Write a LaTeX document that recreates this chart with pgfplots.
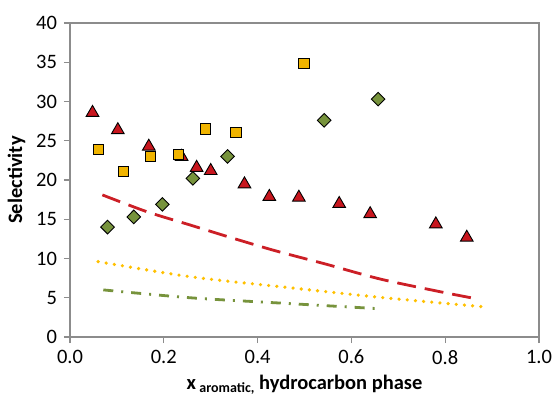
\documentclass[border=0pt]{standalone}
\usepackage{pgfplots}
\pgfplotsset{compat=1.18}
\usepackage{fontspec}
\setmainfont{Carlito}
\definecolor{tri}{HTML}{C8161E}
\definecolor{sq}{HTML}{F0B400}
\definecolor{dia}{HTML}{77933C}
\definecolor{redline}{HTML}{CC1F26}
\definecolor{goldline}{HTML}{FFC000}
\definecolor{axgray}{HTML}{8C8C8C}
\begin{document}
\fontsize{20.5bp}{23bp}\selectfont
\begin{tikzpicture}
\begin{axis}[
    scale only axis,
    width=469bp, height=314bp,
    xmin=0, xmax=1, ymin=0, ymax=40,
    xtick={0,0.2,0.4,0.6,0.8,1},
    ytick={0,5,10,15,20,25,30,35,40},
    xticklabel style={/pgf/number format/.cd, fixed, fixed zerofill, precision=1},
    /pgf/number format/assume math mode=true,
    tick align=outside,
    tick pos=left,
    major tick length=6bp,
    axis line style={axgray, line width=1.3bp},
    every tick/.style={axgray, line width=1.3bp},
    ylabel={\bfseries Selectivity},
    xlabel={\bfseries x\,\raisebox{-3bp}{\fontsize{14bp}{15bp}\selectfont aromatic,} hydrocarbon phase},
    ylabel style={yshift=-3bp},
    xlabel style={yshift=3bp},
]
% correlation lines
\addplot[redline, line width=2.8bp, dash pattern=on 19bp off 9bp, smooth] coordinates {
    (0.069,18.1) (0.164,15.96) (0.256,14.27) (0.341,12.7) (0.437,11.0)
    (0.547,9.26) (0.661,7.39) (0.789,5.77) (0.855,5.0)};
\addplot[goldline, line width=3.6bp, line cap=round, dash pattern=on 0bp off 8.2bp, smooth] coordinates {
    (0.06,9.6) (0.256,7.68) (0.45,6.4) (0.661,5.05) (0.88,3.86)};
\addplot[dia, line width=2.8bp, dash pattern=on 10bp off 8bp on 2bp off 8bp, smooth] coordinates {
    (0.071,6.0) (0.256,5.0) (0.455,4.3) (0.66,3.6)};
% experimental points
\addplot[only marks, mark=triangle*, mark size=7.3bp,
    mark options={fill=tri, draw=black, line width=0.9bp, yshift=-1.8bp}] coordinates {
    (0.048,28.8) (0.102,26.6) (0.168,24.5) (0.238,23.2) (0.270,21.8)
    (0.300,21.4) (0.372,19.7) (0.425,18.1) (0.488,18.0) (0.574,17.2)
    (0.640,15.9) (0.780,14.6) (0.846,12.9)};
\addplot[only marks, mark=square*, mark size=5.1bp,
    mark options={fill=sq, draw=black, line width=0.9bp}] coordinates {
    (0.061,23.9) (0.114,21.1) (0.171,23.0) (0.232,23.3) (0.289,26.5)
    (0.354,26.1) (0.499,34.8)};
\addplot[only marks, mark=diamond*, mark size=6.8bp,
    mark options={fill=dia, draw=black, line width=0.9bp, xscale=1.33}] coordinates {
    (0.080,14.0) (0.136,15.3) (0.197,16.9) (0.262,20.2) (0.336,23.0)
    (0.542,27.6) (0.657,30.3)};
\end{axis}
\draw[axgray, line width=1.3bp] (current axis.north west) -- (current axis.north east) -- (current axis.south east);
\pgfresetboundingbox
\path ([shift={(-70bp,-63bp)}]current axis.south west) rectangle ([shift={(15bp,23bp)}]current axis.north east);
\end{tikzpicture}
\end{document}
